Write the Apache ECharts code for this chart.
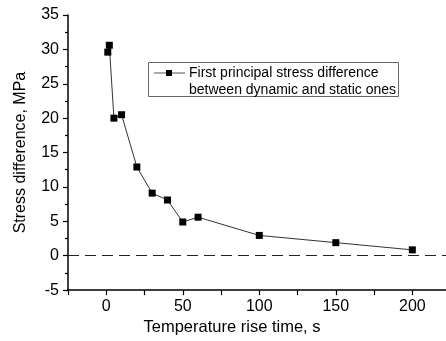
<!DOCTYPE html>
<html>
<head>
<meta charset="utf-8">
<script src="https://cdn.jsdelivr.net/npm/echarts@6/dist/echarts.min.js"></script>
<style>html,body{margin:0;padding:0;background:#fff;}#c{width:446px;height:341px;}</style>
</head>
<body>
<div id="c"></div>
<script>
var times = [1, 2, 5, 10, 20, 30, 40, 50, 60, 100, 150, 200];
var stressDiff = [29.6, 30.6, 20.0, 20.5, 12.9, 9.1, 8.1, 4.9, 5.6, 2.95, 1.9, 0.85];
var xTickLabels = [0, 50, 100, 150, 200];
var yTickLabels = [-5, 0, 5, 10, 15, 20, 25, 30, 35];
var seriesName = 'First principal stress difference';
var legendLine2 = 'between dynamic and static ones';
var xTitle = 'Temperature rise time, s';
var yTitle = 'Stress difference, MPa';

var font = 'Liberation Sans, Arial, sans-serif';
var chart = echarts.init(document.getElementById('c'), null, {renderer: 'canvas'});
var data = times.map(function (t, i) { return [t, stressDiff[i]]; });

chart.setOption({
  animation: false,
  backgroundColor: '#fff',
  grid: {left: 68, right: 0, top: 15, bottom: 48},
  xAxis: {
    type: 'value', min: -25, max: 222, interval: 25,
    name: xTitle, nameLocation: 'middle', nameGap: 28,
    nameTextStyle: {fontFamily: font, fontSize: 16.5, color: '#000', padding: [0, 50, 0, 0]},
    axisLine: {show: true, onZero: false, lineStyle: {color: '#000', width: 1.5}},
    axisTick: {show: true, inside: false, length: 5, lineStyle: {color: '#000', width: 1.2}},
    axisLabel: {
      fontFamily: font, fontSize: 16, color: '#000', margin: 8,
      showMaxLabel: false,
      formatter: function (v) { return xTickLabels.indexOf(v) >= 0 ? String(v) : ''; }
    },
    splitLine: {show: false}
  },
  yAxis: {
    type: 'value', min: -5, max: 35, interval: 5,
    name: yTitle, nameLocation: 'middle', nameGap: 39,
    nameTextStyle: {fontFamily: font, fontSize: 16, color: '#000'},
    axisLine: {show: true, onZero: false, lineStyle: {color: '#000', width: 1.5}},
    axisTick: {show: true, inside: false, length: 5, lineStyle: {color: '#000', width: 1.2}},
    minorTick: {show: true, splitNumber: 2, length: 3, lineStyle: {color: '#000', width: 1.2}},
    axisLabel: {
      fontFamily: font, fontSize: 16, color: '#000', margin: 9,
      formatter: function (v) { return yTickLabels.indexOf(v) >= 0 ? String(v) : ''; }
    },
    splitLine: {show: false}
  },
  series: [{
    name: seriesName,
    type: 'line',
    data: data,
    symbol: 'rect',
    symbolSize: 7,
    itemStyle: {color: '#000'},
    lineStyle: {color: '#333', width: 1},
    markLine: {
      silent: true, symbol: 'none',
      label: {show: false},
      lineStyle: {color: '#222', width: 1, type: [11, 6]},
      data: [{yAxis: 0}]
    }
  }],
  graphic: [
    {type: 'rect', shape: {x: 148.5, y: 62.5, width: 250, height: 34}, style: {fill: '#fff', stroke: '#666', lineWidth: 1}},
    {type: 'line', shape: {x1: 154, y1: 73, x2: 185, y2: 73}, style: {stroke: '#555', lineWidth: 1}},
    {type: 'rect', shape: {x: 166, y: 70, width: 6, height: 6}, style: {fill: '#000'}},
    {type: 'text', x: 189, y: 73, style: {text: seriesName, font: '14px ' + font, fill: '#000', verticalAlign: 'middle'}},
    {type: 'text', x: 189, y: 90, style: {text: legendLine2, font: '14px ' + font, fill: '#000', verticalAlign: 'middle'}}
  ]
});
</script>
</body>
</html>
